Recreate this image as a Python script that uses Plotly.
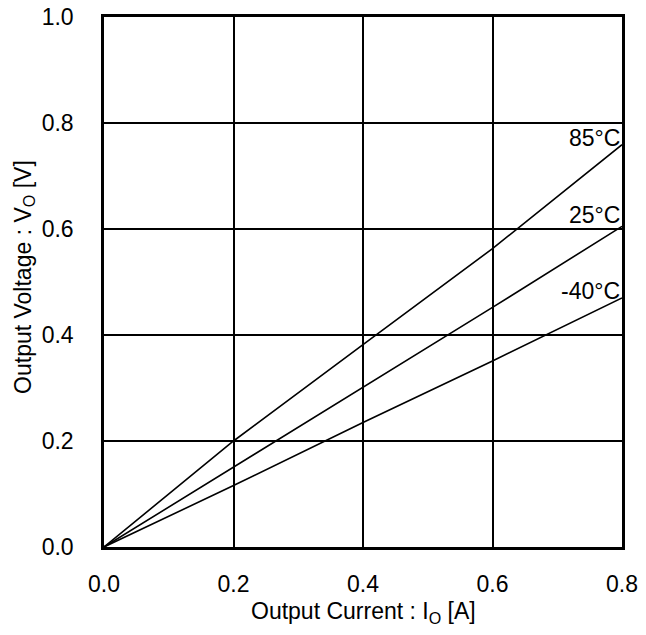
import plotly.graph_objects as go

current = [0.0, 0.2, 0.4, 0.6, 0.8]
v_85 = [0.0, 0.200, 0.382, 0.563, 0.759]
v_25 = [0.0, 0.151, 0.302, 0.452, 0.605]
v_m40 = [0.0, 0.116, 0.235, 0.351, 0.470]
series_names = ["85°C", "25°C", "-40°C"]
label_y = [0.772, 0.627, 0.483]

x_ticks = [0.0, 0.2, 0.4, 0.6, 0.8]
y_ticks = [0.0, 0.2, 0.4, 0.6, 0.8, 1.0]

FONT = "Liberation Sans, Arial"
TICK_SIZE = 23
TITLE_SIZE = 23

fig = go.Figure()
for name, vals in zip(series_names, [v_85, v_25, v_m40]):
    fig.add_trace(go.Scatter(x=current, y=vals, mode="lines", name=name,
                             line=dict(color="black", width=1.6), showlegend=False))

for name, ly in zip(series_names, label_y):
    fig.add_annotation(x=0.8, y=ly, text=name, showarrow=False, xanchor="right",
                       yanchor="middle", xref="x", yref="y",
                       font=dict(family=FONT, size=TICK_SIZE, color="black"))

# axis titles
fig.add_annotation(x=0.5, y=-0.124, xref="paper", yref="paper",
                   text="Output Current : I<sub>O</sub> [A]", showarrow=False,
                   xanchor="center", yanchor="middle",
                   font=dict(family=FONT, size=TITLE_SIZE, color="black"))
fig.add_annotation(x=-0.154, y=0.51, xref="paper", yref="paper",
                   text="Output Voltage : V<sub>O</sub> [V]", showarrow=False,
                   xanchor="center", yanchor="middle", textangle=-90,
                   font=dict(family=FONT, size=TITLE_SIZE, color="black"))

fig.update_layout(
    width=646, height=635,
    margin=dict(l=104, r=24, t=17, b=88),
    plot_bgcolor="white", paper_bgcolor="white",
    font=dict(family=FONT, size=TICK_SIZE, color="black"),
)
fig.update_xaxes(range=[0, 0.8], tickvals=x_ticks, ticktext=[f"{v:.1f}" for v in x_ticks],
                 showgrid=True, gridcolor="black", gridwidth=2,
                 showline=True, linecolor="black", linewidth=2.5, mirror=True,
                 zeroline=False, ticks="", ticklabelstandoff=15, automargin=False,
                 tickfont=dict(family=FONT, size=TICK_SIZE, color="black"))
fig.update_yaxes(range=[0, 1.0], tickvals=y_ticks, ticktext=[f"{v:.1f}" for v in y_ticks],
                 showgrid=True, gridcolor="black", gridwidth=2,
                 showline=True, linecolor="black", linewidth=2.5, mirror=True,
                 zeroline=False, ticks="", ticklabelstandoff=23, automargin=False,
                 tickfont=dict(family=FONT, size=TICK_SIZE, color="black"))

fig.write_html("out.html", config={"displayModeBar": False},
               post_script="document.body.style.margin='0';")
